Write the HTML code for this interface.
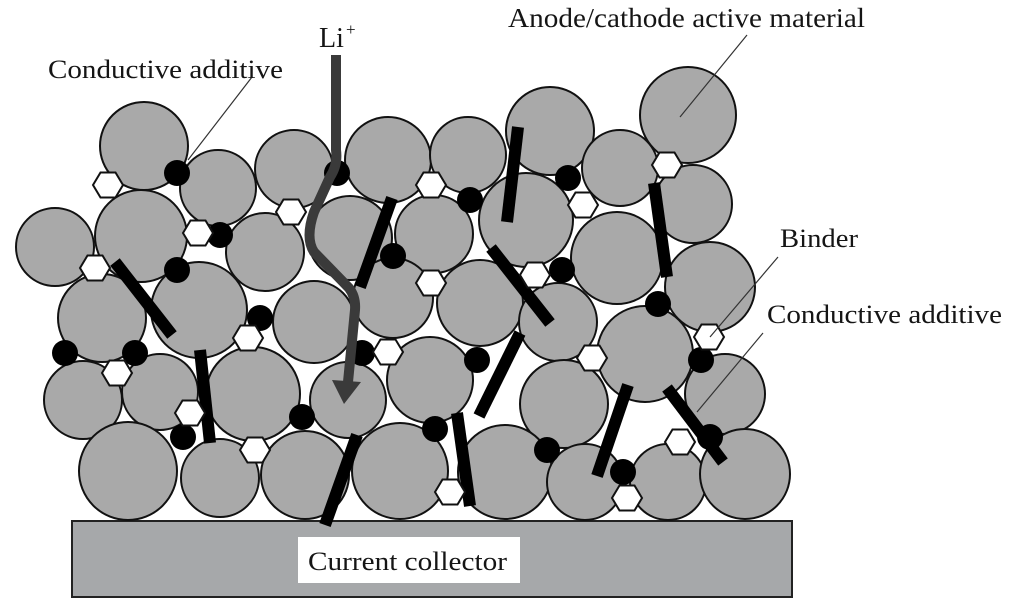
<!DOCTYPE html>
<html><head><meta charset="utf-8"><style>
html,body{margin:0;padding:0;background:#fff;}
svg{display:block;}
text{font-family:"Liberation Serif",serif;fill:#151515;}
</style></head><body>
<svg width="1024" height="603" viewBox="0 0 1024 603" xmlns="http://www.w3.org/2000/svg">
<rect x="0" y="0" width="1024" height="603" fill="#fff"/>
<!-- current collector -->
<rect x="72" y="521" width="720" height="76" fill="#a6a8aa" stroke="#222" stroke-width="2"/>
<rect x="298" y="537" width="222" height="46" fill="#fff"/>
<text x="308" y="570" font-size="26" textLength="199" lengthAdjust="spacingAndGlyphs">Current collector</text>
<!-- particles -->
<g fill="#a9a9a9" stroke="#111" stroke-width="2">
<circle cx="144" cy="146" r="44"/><circle cx="218" cy="188" r="38"/><circle cx="294" cy="169" r="39"/>
<circle cx="388" cy="160" r="43"/><circle cx="468" cy="155" r="38"/><circle cx="550" cy="131" r="44"/>
<circle cx="620" cy="168" r="38"/><circle cx="688" cy="115" r="48"/><circle cx="693" cy="204" r="39"/>
<circle cx="710" cy="287" r="45"/>
<circle cx="55" cy="247" r="39"/><circle cx="141" cy="236" r="46"/><circle cx="265" cy="252" r="39"/>
<circle cx="350" cy="238" r="42"/><circle cx="434" cy="234" r="39"/><circle cx="526" cy="220" r="47"/>
<circle cx="617" cy="258" r="46"/>
<circle cx="102" cy="318" r="44"/><circle cx="199" cy="310" r="48"/><circle cx="314" cy="322" r="41"/>
<circle cx="393" cy="298" r="40"/><circle cx="480" cy="303" r="43"/><circle cx="558" cy="322" r="39"/>
<circle cx="645" cy="354" r="48"/><circle cx="725" cy="394" r="40"/>
<circle cx="83" cy="400" r="39"/><circle cx="160" cy="392" r="38"/><circle cx="253" cy="394" r="47"/>
<circle cx="348" cy="400" r="38"/><circle cx="430" cy="380" r="43"/><circle cx="564" cy="404" r="44"/>
<circle cx="128" cy="471" r="49"/><circle cx="220" cy="478" r="39"/><circle cx="305" cy="475" r="44"/>
<circle cx="400" cy="471" r="48"/><circle cx="505" cy="472" r="47"/><circle cx="585" cy="482" r="38"/>
<circle cx="668" cy="482" r="38"/><circle cx="745" cy="474" r="45"/>
</g>
<!-- rods -->
<g stroke="#000" stroke-width="12" stroke-linecap="butt">
<line x1="115" y1="262" x2="172" y2="335"/>
<line x1="200" y1="350" x2="210" y2="443"/>
<line x1="518" y1="127" x2="507" y2="222"/>
<line x1="392" y1="198" x2="360" y2="287"/>
<line x1="491" y1="248" x2="550" y2="323"/>
<line x1="654" y1="183" x2="667" y2="277"/>
<line x1="520" y1="333" x2="479" y2="416"/>
<line x1="457" y1="413" x2="470" y2="506"/>
<line x1="357" y1="435" x2="325" y2="525"/>
<line x1="628" y1="385" x2="597" y2="476"/>
<line x1="667" y1="388" x2="723" y2="462"/>
</g>
<!-- conductive dots -->
<g fill="#000">
<circle cx="177" cy="173" r="13"/><circle cx="220" cy="235" r="13"/><circle cx="177" cy="270" r="13"/>
<circle cx="337" cy="173" r="13"/><circle cx="470" cy="200" r="13"/><circle cx="568" cy="178" r="13"/>
<circle cx="393" cy="256" r="13"/><circle cx="562" cy="270" r="13"/><circle cx="658" cy="304" r="13"/>
<circle cx="65" cy="353" r="13"/><circle cx="135" cy="353" r="13"/><circle cx="260" cy="318" r="13"/>
<circle cx="183" cy="437" r="13"/><circle cx="302" cy="417" r="13"/><circle cx="362" cy="353" r="13"/>
<circle cx="477" cy="360" r="13"/><circle cx="435" cy="429" r="13"/><circle cx="547" cy="450" r="13"/>
<circle cx="623" cy="472" r="13"/><circle cx="701" cy="360" r="13"/><circle cx="710" cy="437" r="13"/>
</g>
<!-- binder hexagons -->
<defs><polygon id="hx" points="-15,0 -7.5,-12.5 7.5,-12.5 15,0 7.5,12.5 -7.5,12.5" fill="#fff" stroke="#111" stroke-width="2"/></defs>
<use href="#hx" x="108" y="185"/><use href="#hx" x="198" y="233"/><use href="#hx" x="95" y="268"/>
<use href="#hx" x="291" y="212"/><use href="#hx" x="431" y="185"/><use href="#hx" x="583" y="205"/>
<use href="#hx" x="667" y="165"/><use href="#hx" x="431" y="283"/><use href="#hx" x="535" y="275"/>
<use href="#hx" x="117" y="373"/><use href="#hx" x="248" y="338"/><use href="#hx" x="190" y="413"/>
<use href="#hx" x="255" y="450"/><use href="#hx" x="388" y="352"/><use href="#hx" x="592" y="358"/>
<use href="#hx" x="450" y="492"/><use href="#hx" x="627" y="498"/><use href="#hx" x="709" y="337"/>
<use href="#hx" x="680" y="442"/>
<!-- Li+ path -->
<path d="M336,55 L336,150 Q338,165 330,177 L314,212 Q305,238 314,252 L349,288 Q356,297 355,310 L348,382" fill="none" stroke="#3a3a3a" stroke-width="10" stroke-linejoin="round"/>
<polygon points="332,380 361,382 344,404" fill="#3a3a3a"/>
<!-- leader lines -->
<g stroke="#333" stroke-width="1.2">
<line x1="252" y1="77" x2="188" y2="160"/>
<line x1="747" y1="35" x2="680" y2="117"/>
<line x1="778" y1="257" x2="710" y2="337"/>
<line x1="763" y1="333" x2="697" y2="412"/>
</g>
<!-- labels -->
<text x="48" y="78" font-size="26" textLength="235" lengthAdjust="spacingAndGlyphs">Conductive additive</text>
<text x="319" y="47" font-size="28">Li</text>
<text x="346" y="35" font-size="17">+</text>
<text x="508" y="27" font-size="27" textLength="357" lengthAdjust="spacingAndGlyphs">Anode/cathode active material</text>
<text x="780" y="247" font-size="26" textLength="78" lengthAdjust="spacingAndGlyphs">Binder</text>
<text x="767" y="323" font-size="26" textLength="235" lengthAdjust="spacingAndGlyphs">Conductive additive</text>
</svg>
</body></html>
